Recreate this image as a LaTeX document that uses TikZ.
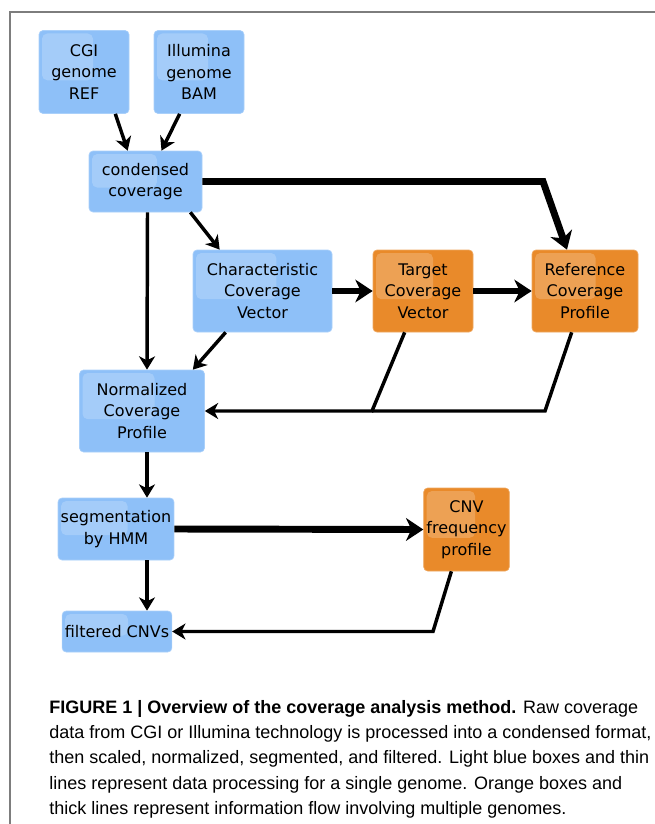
\documentclass[tikz,border=0pt]{standalone}
\usepackage{fontspec}
\setmainfont{DejaVu Sans}
\newfontfamily\capfont{Liberation Sans}
\usetikzlibrary{arrows.meta,calc}
\definecolor{boxblue}{RGB}{142,192,248}
\definecolor{boxorange}{RGB}{233,138,42}
\definecolor{framegray}{RGB}{125,125,125}
\tikzset{
  box/.style={rounded corners=3pt, align=center, inner sep=2pt,
    font=\fontsize{12}{16}\selectfont, fill=#1, draw=#1!75!white, line width=0.5pt,
    path picture={\fill[white,opacity=0.2,rounded corners=4pt]
      ($(path picture bounding box.north west)+(3,3)$) rectangle
      ($(path picture bounding box.north west)!0.6!(path picture bounding box.south east)$);}},
  box/.default=boxblue,
  single/.style={line width=2.6pt, -{Stealth[length=10pt,width=12pt,inset=3pt]}},
  singleline/.style={line width=2.6pt},
  multi/.style={line width=5.2pt, -{Stealth[length=13pt,width=17pt,inset=4pt]}}
}
\begin{document}
\begin{tikzpicture}[x=0.75pt,y=-0.75pt]
  \useasboundingbox (0,0) rectangle (655,824);
  \draw[framegray,line width=1.5pt] (655,12) -- (10,12) -- (10,824);

  % boxes
  \node[box, minimum width=67.5pt, minimum height=62.25pt] (cgi) at (84,72) {CGI\\genome\\REF};
  \node[box, minimum width=67.5pt, minimum height=62.25pt] (illumina) at (199,72) {Illumina\\genome\\BAM};
  \node[box, minimum width=84.75pt, minimum height=45.75pt] (condensed) at (145.5,181.5) {condensed\\coverage};
  \node[box, minimum width=104.25pt, minimum height=61.5pt] (charvec) at (262.5,291) {Characteristic\\Coverage\\Vector};
  \node[box=boxorange, minimum width=75pt, minimum height=61.5pt] (target) at (423,291) {Target\\Coverage\\Vector};
  \node[box=boxorange, minimum width=79.5pt, minimum height=61.5pt] (refprof) at (585,291) {Reference\\Coverage\\Profile};
  \node[box, minimum width=93.75pt, minimum height=61.5pt] (normprof) at (142,411) {Normalized\\Coverage\\Profile};
  \node[box, minimum width=82.5pt, minimum height=46.5pt] (segm) at (116,529) {segmentation\\by HMM};
  \node[box=boxorange, minimum width=63.75pt, minimum height=62.25pt] (cnvfreq) at (466.5,529.5) {CNV\\frequency\\profile};
  \node[box, minimum width=79.5pt, minimum height=30.75pt] (filtered) at (117,631.5) {filtered CNVs};

  % bends of the return lines
  \coordinate (k1) at (543,181.5);
  \coordinate (j1) at (372,411);
  \coordinate (j2) at (545,411);
  \coordinate (j3) at (433,631.5);

  % connectors
  \draw[single] ($(cgi.south east)+(-14,0)$) -- ($(condensed.north west)+(39,0)$);
  \draw[single] ($(illumina.south west)+(26,0)$) -- ($(condensed.north)+(16,0)$);
  \draw[multi] (condensed.east) -- (k1) -- ($(refprof.north)+(-18,0)$);
  \draw[single] ($(condensed.south)+(2,0)$) -- ($(normprof.north)+(5,0)$);
  \draw[single] ($(condensed.south east)+(-12,0)$) -- ($(charvec.north west)+(27,0)$);
  \draw[multi] (charvec.east) -- (target.west);
  \draw[multi] (target.east) -- (refprof.west);
  \draw[single] ($(charvec.south west)+(33,0)$) -- ($(normprof.north east)+(-12,0)$);
  \draw[single] ($(target.south west)+(32,0)$) -- (j1) -- (normprof.east);
  \draw[singleline] ($(refprof.south west)+(40,0)$) -- (j2) -- (j1);
  \draw[single] ($(normprof.south)+(5,0)$) -- ($(segm.north)+(31,0)$);
  \draw[multi] (segm.east) -- (cnvfreq.west);
  \draw[single] ($(segm.south)+(31,0)$) -- ($(filtered.north)+(30,0)$);
  \draw[single] ($(cnvfreq.south west)+(28,0)$) -- (j3) -- (filtered.east);

  % caption
  \node[anchor=north west, inner sep=0pt, align=left,
    font=\capfont\fontsize{13.5}{19}\selectfont] (caption) at (49,700)
    {\textbf{FIGURE 1 | Overview of the coverage analysis method.} Raw coverage\\
     data from CGI or Illumina technology is processed into a condensed format,\\
     then scaled, normalized, segmented, and filtered. Light blue boxes and thin\\
     lines represent data processing for a single genome. Orange boxes and\\
     thick lines represent information flow involving multiple genomes.};
\end{tikzpicture}
\end{document}
